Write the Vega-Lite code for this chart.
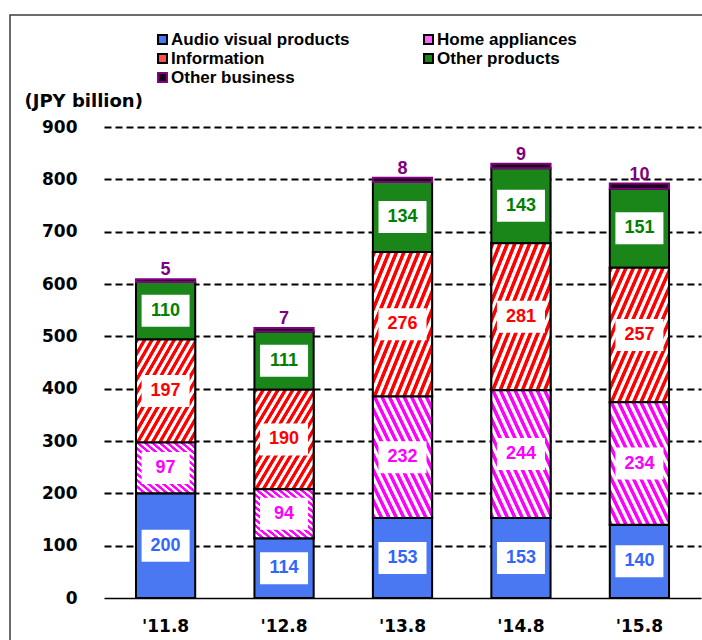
{
  "$schema": "https://vega.github.io/schema/vega-lite/v6.json",
  "width": 692,
  "height": 625,
  "autosize": {"type": "none"},
  "padding": {"left": 10, "top": 15, "right": 0, "bottom": 0},
  "background": "white",
  "config": {
    "view": {"stroke": "#3c3c3c", "strokeWidth": 1.5, "strokeDash": [692, 1317, 625]}
  },
  "data": {
    "values": [
      {"period": "'11.8", "segment": "Audio visual products", "amount": 200},
      {"period": "'11.8", "segment": "Home appliances", "amount": 97},
      {"period": "'11.8", "segment": "Information", "amount": 197},
      {"period": "'11.8", "segment": "Other products", "amount": 110},
      {"period": "'11.8", "segment": "Other business", "amount": 5},
      {"period": "'12.8", "segment": "Audio visual products", "amount": 114},
      {"period": "'12.8", "segment": "Home appliances", "amount": 94},
      {"period": "'12.8", "segment": "Information", "amount": 190},
      {"period": "'12.8", "segment": "Other products", "amount": 111},
      {"period": "'12.8", "segment": "Other business", "amount": 7},
      {"period": "'13.8", "segment": "Audio visual products", "amount": 153},
      {"period": "'13.8", "segment": "Home appliances", "amount": 232},
      {"period": "'13.8", "segment": "Information", "amount": 276},
      {"period": "'13.8", "segment": "Other products", "amount": 134},
      {"period": "'13.8", "segment": "Other business", "amount": 8},
      {"period": "'14.8", "segment": "Audio visual products", "amount": 153},
      {"period": "'14.8", "segment": "Home appliances", "amount": 244},
      {"period": "'14.8", "segment": "Information", "amount": 281},
      {"period": "'14.8", "segment": "Other products", "amount": 143},
      {"period": "'14.8", "segment": "Other business", "amount": 9},
      {"period": "'15.8", "segment": "Audio visual products", "amount": 140},
      {"period": "'15.8", "segment": "Home appliances", "amount": 234},
      {"period": "'15.8", "segment": "Information", "amount": 257},
      {"period": "'15.8", "segment": "Other products", "amount": 151},
      {"period": "'15.8", "segment": "Other business", "amount": 10}
    ]
  },
  "transform": [
    {"calculate": "indexof(['Audio visual products', 'Home appliances', 'Information', 'Other products', 'Other business'], datum.segment)", "as": "rank"},
    {"stack": "amount", "groupby": ["period"], "sort": [{"field": "rank", "order": "ascending"}], "as": ["lo", "hi"]},
    {"calculate": "(datum.lo + datum.hi) / 2", "as": "mid"}
  ],
  "encoding": {
    "x": {
      "field": "period",
      "type": "nominal",
      "sort": null,
      "scale": {"range": [94, 691], "paddingInner": 0.5, "paddingOuter": 0.27},
      "axis": {
        "title": null,
        "labelAngle": 0,
        "labelFont": "DejaVu Sans",
        "labelFontSize": 17,
        "labelFontWeight": "bold",
        "labelColor": "black",
        "labelBaseline": "alphabetic",
        "labelPadding": 0,
        "offset": -9,
        "ticks": false,
        "domain": false,
        "grid": false
      }
    }
  },
  "layer": [
    {
      "mark": {"type": "bar", "strokeWidth": 2},
      "encoding": {
        "y": {
          "field": "lo",
          "type": "quantitative",
          "scale": {"domain": [0, 900], "range": [583, 112], "nice": false, "zero": false},
          "axis": {
            "values": [0, 100, 200, 300, 400, 500, 600, 700, 800, 900],
            "title": "(JPY billion)",
            "titleAngle": 0,
            "titleAlign": "left",
            "titleBaseline": "middle",
            "titleX": -56,
            "titleY": 86,
            "titleFont": "DejaVu Sans",
            "titleFontSize": 18,
            "titleFontWeight": "bold",
            "titleColor": "black",
            "labelFont": "DejaVu Sans",
            "labelFontSize": 17,
            "labelFontWeight": "bold",
            "labelColor": "black",
            "labelPadding": 3,
            "offset": -70,
            "ticks": false,
            "domain": false,
            "grid": true,
            "gridColor": "black",
            "gridOpacity": 1,
            "gridWidth": {"condition": {"test": "datum.value === 0", "value": 1.5}, "value": 2},
            "gridDash": {"condition": {"test": "datum.value === 0", "value": []}, "value": [7, 4]}
          }
        },
        "y2": {"field": "hi"},
        "color": {
          "field": "segment",
          "type": "nominal",
          "scale": {
            "domain": ["Audio visual products", "Home appliances", "Information", "Other products", "Other business"],
            "range": ["#4a78f3", "#ff66ff", "#ff5050", "#1a861a", "#1a001a"]
          },
          "legend": {
            "orient": "none",
            "direction": "horizontal",
            "legendX": 144,
            "legendY": 16,
            "columns": 2,
            "title": null,
            "padding": 0,
            "symbolType": "square",
            "symbolSize": 80,
            "symbolStrokeColor": "black",
            "symbolStrokeWidth": 2,
            "symbolOpacity": 1,
            "labelFont": "Liberation Sans",
            "labelFontSize": 17,
            "labelFontWeight": "bold",
            "labelColor": "black",
            "labelOffset": 0,
            "labelLimit": 300,
            "columnPadding": 70,
            "rowPadding": 1,
            "encode": {
              "symbols": {
                "update": {
                  "stroke": {"signal": "datum.label === 'Other business' ? '#800080' : 'black'"}
                }
              }
            }
          }
        },
        "stroke": {
          "condition": {"test": "datum.segment === 'Other business'", "value": "#800080"},
          "value": "black"
        }
      }
    },
    {
      "transform": [{"filter": "datum.segment === 'Information'"}],
      "mark": {
        "type": "bar",
        "stroke": "black",
        "strokeWidth": 2,
        "fill": {
          "gradient": "linear", "x1": 0, "y1": 0, "x2": 1, "y2": 1,
          "stops": [
            {"offset": 0, "color": "#ff0000"}, {"offset": 0.025, "color": "#ff0000"}, {"offset": 0.0325, "color": "#ffffff"}, {"offset": 0.055, "color": "#ffffff"},
            {"offset": 0.0625, "color": "#ff0000"}, {"offset": 0.0875, "color": "#ff0000"}, {"offset": 0.095, "color": "#ffffff"}, {"offset": 0.1175, "color": "#ffffff"},
            {"offset": 0.125, "color": "#ff0000"}, {"offset": 0.15, "color": "#ff0000"}, {"offset": 0.1575, "color": "#ffffff"}, {"offset": 0.18, "color": "#ffffff"},
            {"offset": 0.1875, "color": "#ff0000"}, {"offset": 0.2125, "color": "#ff0000"}, {"offset": 0.22, "color": "#ffffff"}, {"offset": 0.2425, "color": "#ffffff"},
            {"offset": 0.25, "color": "#ff0000"}, {"offset": 0.275, "color": "#ff0000"}, {"offset": 0.2825, "color": "#ffffff"}, {"offset": 0.305, "color": "#ffffff"},
            {"offset": 0.3125, "color": "#ff0000"}, {"offset": 0.3375, "color": "#ff0000"}, {"offset": 0.345, "color": "#ffffff"}, {"offset": 0.3675, "color": "#ffffff"},
            {"offset": 0.375, "color": "#ff0000"}, {"offset": 0.4, "color": "#ff0000"}, {"offset": 0.4075, "color": "#ffffff"}, {"offset": 0.43, "color": "#ffffff"},
            {"offset": 0.4375, "color": "#ff0000"}, {"offset": 0.4625, "color": "#ff0000"}, {"offset": 0.47, "color": "#ffffff"}, {"offset": 0.4925, "color": "#ffffff"},
            {"offset": 0.5, "color": "#ff0000"}, {"offset": 0.525, "color": "#ff0000"}, {"offset": 0.5325, "color": "#ffffff"}, {"offset": 0.555, "color": "#ffffff"},
            {"offset": 0.5625, "color": "#ff0000"}, {"offset": 0.5875, "color": "#ff0000"}, {"offset": 0.595, "color": "#ffffff"}, {"offset": 0.6175, "color": "#ffffff"},
            {"offset": 0.625, "color": "#ff0000"}, {"offset": 0.65, "color": "#ff0000"}, {"offset": 0.6575, "color": "#ffffff"}, {"offset": 0.68, "color": "#ffffff"},
            {"offset": 0.6875, "color": "#ff0000"}, {"offset": 0.7125, "color": "#ff0000"}, {"offset": 0.72, "color": "#ffffff"}, {"offset": 0.7425, "color": "#ffffff"},
            {"offset": 0.75, "color": "#ff0000"}, {"offset": 0.775, "color": "#ff0000"}, {"offset": 0.7825, "color": "#ffffff"}, {"offset": 0.805, "color": "#ffffff"},
            {"offset": 0.8125, "color": "#ff0000"}, {"offset": 0.8375, "color": "#ff0000"}, {"offset": 0.845, "color": "#ffffff"}, {"offset": 0.8675, "color": "#ffffff"},
            {"offset": 0.875, "color": "#ff0000"}, {"offset": 0.9, "color": "#ff0000"}, {"offset": 0.9075, "color": "#ffffff"}, {"offset": 0.93, "color": "#ffffff"},
            {"offset": 0.9375, "color": "#ff0000"}, {"offset": 0.9625, "color": "#ff0000"}, {"offset": 0.97, "color": "#ffffff"}, {"offset": 0.9925, "color": "#ffffff"},
            {"offset": 1, "color": "#ff0000"}
          ]
        }
      },
      "encoding": {
        "y": {"field": "lo", "type": "quantitative"},
        "y2": {"field": "hi"}
      }
    },
    {
      "transform": [{"filter": "datum.segment === 'Home appliances'"}],
      "mark": {
        "type": "bar",
        "stroke": "black",
        "strokeWidth": 2,
        "fill": {
          "gradient": "linear", "x1": 0, "y1": 1, "x2": 1, "y2": 0,
          "stops": [
            {"offset": 0, "color": "#ff00ff"}, {"offset": 0.025, "color": "#ff00ff"}, {"offset": 0.0325, "color": "#ffffff"}, {"offset": 0.055, "color": "#ffffff"},
            {"offset": 0.0625, "color": "#ff00ff"}, {"offset": 0.0875, "color": "#ff00ff"}, {"offset": 0.095, "color": "#ffffff"}, {"offset": 0.1175, "color": "#ffffff"},
            {"offset": 0.125, "color": "#ff00ff"}, {"offset": 0.15, "color": "#ff00ff"}, {"offset": 0.1575, "color": "#ffffff"}, {"offset": 0.18, "color": "#ffffff"},
            {"offset": 0.1875, "color": "#ff00ff"}, {"offset": 0.2125, "color": "#ff00ff"}, {"offset": 0.22, "color": "#ffffff"}, {"offset": 0.2425, "color": "#ffffff"},
            {"offset": 0.25, "color": "#ff00ff"}, {"offset": 0.275, "color": "#ff00ff"}, {"offset": 0.2825, "color": "#ffffff"}, {"offset": 0.305, "color": "#ffffff"},
            {"offset": 0.3125, "color": "#ff00ff"}, {"offset": 0.3375, "color": "#ff00ff"}, {"offset": 0.345, "color": "#ffffff"}, {"offset": 0.3675, "color": "#ffffff"},
            {"offset": 0.375, "color": "#ff00ff"}, {"offset": 0.4, "color": "#ff00ff"}, {"offset": 0.4075, "color": "#ffffff"}, {"offset": 0.43, "color": "#ffffff"},
            {"offset": 0.4375, "color": "#ff00ff"}, {"offset": 0.4625, "color": "#ff00ff"}, {"offset": 0.47, "color": "#ffffff"}, {"offset": 0.4925, "color": "#ffffff"},
            {"offset": 0.5, "color": "#ff00ff"}, {"offset": 0.525, "color": "#ff00ff"}, {"offset": 0.5325, "color": "#ffffff"}, {"offset": 0.555, "color": "#ffffff"},
            {"offset": 0.5625, "color": "#ff00ff"}, {"offset": 0.5875, "color": "#ff00ff"}, {"offset": 0.595, "color": "#ffffff"}, {"offset": 0.6175, "color": "#ffffff"},
            {"offset": 0.625, "color": "#ff00ff"}, {"offset": 0.65, "color": "#ff00ff"}, {"offset": 0.6575, "color": "#ffffff"}, {"offset": 0.68, "color": "#ffffff"},
            {"offset": 0.6875, "color": "#ff00ff"}, {"offset": 0.7125, "color": "#ff00ff"}, {"offset": 0.72, "color": "#ffffff"}, {"offset": 0.7425, "color": "#ffffff"},
            {"offset": 0.75, "color": "#ff00ff"}, {"offset": 0.775, "color": "#ff00ff"}, {"offset": 0.7825, "color": "#ffffff"}, {"offset": 0.805, "color": "#ffffff"},
            {"offset": 0.8125, "color": "#ff00ff"}, {"offset": 0.8375, "color": "#ff00ff"}, {"offset": 0.845, "color": "#ffffff"}, {"offset": 0.8675, "color": "#ffffff"},
            {"offset": 0.875, "color": "#ff00ff"}, {"offset": 0.9, "color": "#ff00ff"}, {"offset": 0.9075, "color": "#ffffff"}, {"offset": 0.93, "color": "#ffffff"},
            {"offset": 0.9375, "color": "#ff00ff"}, {"offset": 0.9625, "color": "#ff00ff"}, {"offset": 0.97, "color": "#ffffff"}, {"offset": 0.9925, "color": "#ffffff"},
            {"offset": 1, "color": "#ff00ff"}
          ]
        }
      },
      "encoding": {
        "y": {"field": "lo", "type": "quantitative"},
        "y2": {"field": "hi"}
      }
    },
    {
      "transform": [{"filter": "datum.segment !== 'Other business'"}],
      "mark": {
        "type": "point",
        "shape": "M-1.5,-1H1.5V1H-1.5Z",
        "size": 1024,
        "filled": true,
        "color": "white",
        "opacity": 1,
        "strokeWidth": 0
      },
      "encoding": {
        "y": {"field": "mid", "type": "quantitative"}
      }
    },
    {
      "transform": [{"filter": "datum.segment !== 'Other business'"}],
      "mark": {
        "type": "text",
        "font": "Liberation Sans",
        "fontSize": 18,
        "fontWeight": "bold",
        "baseline": "middle",
        "align": "center"
      },
      "encoding": {
        "y": {"field": "mid", "type": "quantitative"},
        "text": {"field": "amount", "type": "quantitative"},
        "fill": {
          "condition": [
            {"test": "datum.segment === 'Audio visual products'", "value": "#3366ff"},
            {"test": "datum.segment === 'Home appliances'", "value": "#ff00ff"},
            {"test": "datum.segment === 'Information'", "value": "#ff0000"}
          ],
          "value": "#008000"
        }
      }
    },
    {
      "transform": [{"filter": "datum.segment === 'Other business'"}],
      "mark": {
        "type": "text",
        "font": "Liberation Sans",
        "fontSize": 18,
        "fontWeight": "bold",
        "baseline": "alphabetic",
        "align": "center",
        "dy": -4,
        "color": "#800080"
      },
      "encoding": {
        "y": {"field": "hi", "type": "quantitative"},
        "text": {"field": "amount", "type": "quantitative"}
      }
    }
  ]
}
